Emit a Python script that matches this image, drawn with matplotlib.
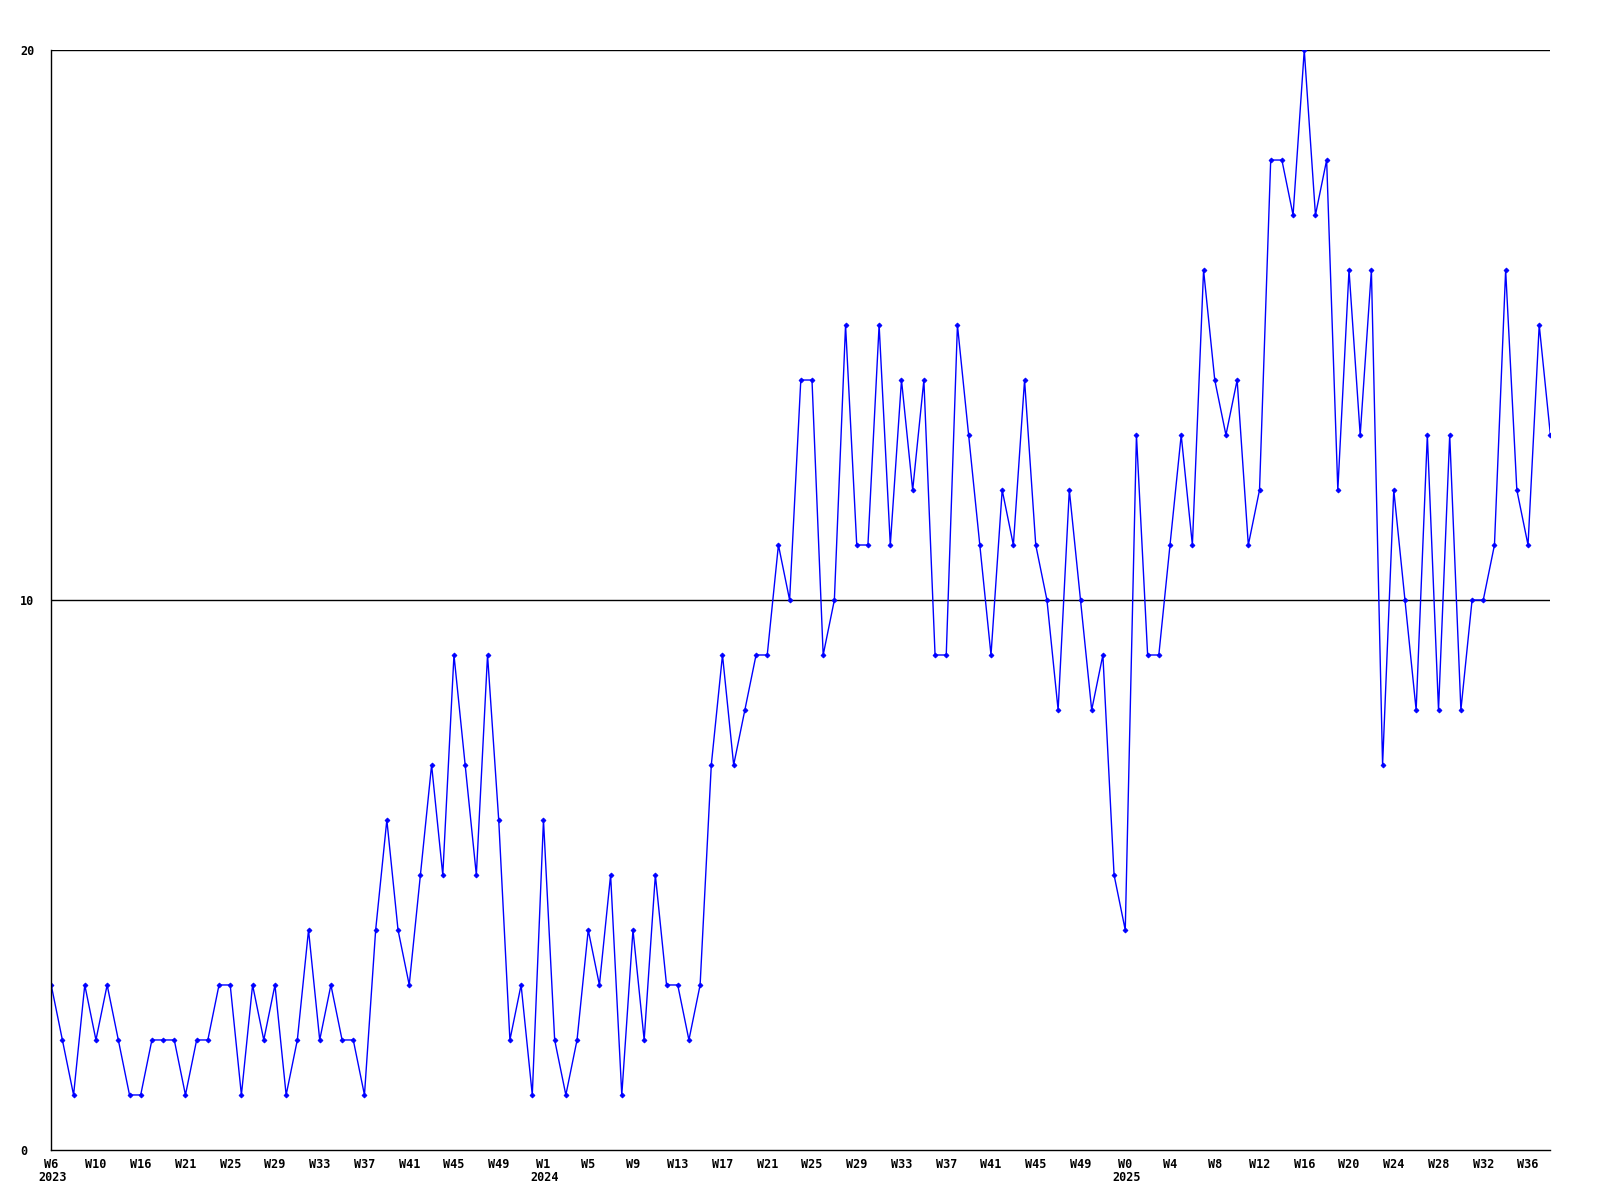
import numpy as np
import matplotlib
matplotlib.use("Agg")
import matplotlib.pyplot as plt

# weekly counts, W6 2023 .. W38 2025
values = [
    3, 2, 1, 3, 2, 3, 2, 1, 1, 2,
    2, 2, 1, 2, 2, 3, 3, 1, 3, 2,
    3, 1, 2, 4, 2, 3, 2, 2, 1, 4,
    6, 4, 3, 5, 7, 5, 9, 7, 5, 9,
    6, 2, 3, 1, 6, 2, 1, 2, 4, 3,
    5, 1, 4, 2, 5, 3, 3, 2, 3, 7,
    9, 7, 8, 9, 9, 11, 10, 14, 14, 9,
    10, 15, 11, 11, 15, 11, 14, 12, 14, 9,
    9, 15, 13, 11, 9, 12, 11, 14, 11, 10,
    8, 12, 10, 8, 9, 5, 4, 13, 9, 9,
    11, 13, 11, 16, 14, 13, 14, 11, 12, 18,
    18, 17, 20, 17, 18, 12, 16, 13, 16, 7,
    12, 10, 8, 13, 8, 13, 8, 10, 10, 11,
    16, 12, 11, 15, 13,
]

# a label every 4th point
week_labels = ["W6", "W10", "W16", "W21", "W25", "W29", "W33", "W37", "W41",
               "W45", "W49", "W1", "W5", "W9", "W13", "W17", "W21", "W25",
               "W29", "W33", "W37", "W41", "W45", "W49", "W0", "W4", "W8",
               "W12", "W16", "W20", "W24", "W28", "W32", "W36"]
year_labels = {0: "2023", 44: "2024", 96: "2025"}
y_ticks = [0, 10, 20]

font = dict(family="DejaVu Sans Mono", fontweight="bold", fontsize=8.5)

fig = plt.figure(figsize=(16, 12), dpi=100)
ax = fig.add_axes([0.032, 0.0417, 0.937, 0.9166])

x = np.arange(len(values))
ax.plot(x, values, color="#0000ff", linewidth=1, marker="D", markersize=2.5,
        markeredgewidth=0.6)

for y in y_ticks[1:]:
    ax.axhline(y, color="black", linewidth=1, zorder=0)

ax.set_xlim(0, len(values) - 1)
ax.set_ylim(0, 20)

ax.spines["top"].set_visible(False)
ax.spines["right"].set_visible(False)
ax.spines["left"].set_linewidth(1)
ax.spines["bottom"].set_linewidth(1)

ax.set_yticks(y_ticks)
ax.set_yticklabels([str(v) for v in y_ticks], ha="left", **font)
ax.tick_params(axis="y", length=0, pad=22.5)

tick_pos = np.arange(0, len(values), 4)[:len(week_labels)]
ax.set_xticks(tick_pos)
ax.set_xticklabels(week_labels, **font)
ax.tick_params(axis="x", length=0, pad=6)

for idx, yr in year_labels.items():
    ax.annotate(yr, xy=(idx, 0), xycoords=("data", "axes fraction"),
                xytext=(1, -15), textcoords="offset points",
                ha="center", va="top", **font)

fig.savefig("out.png", dpi=100)
